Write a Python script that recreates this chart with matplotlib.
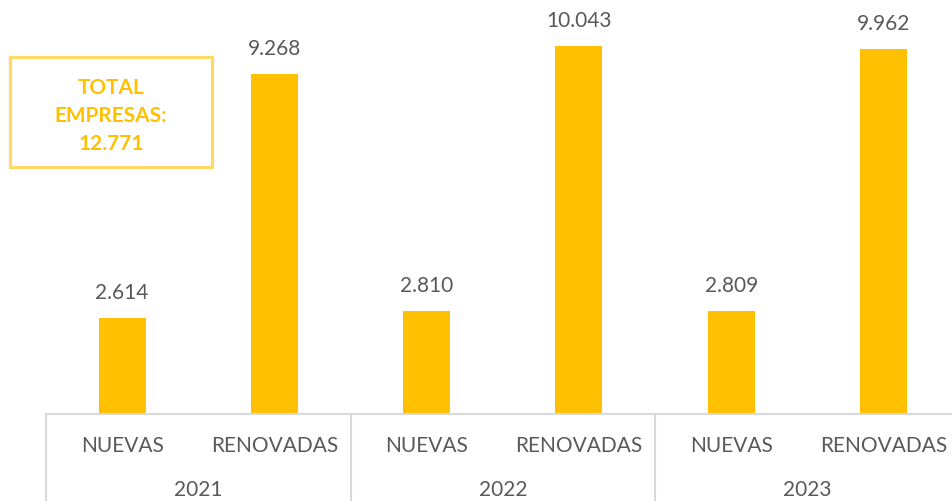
import matplotlib
matplotlib.use("Agg")
import matplotlib.pyplot as plt
from matplotlib.patches import Rectangle
import matplotlib.transforms as mtrans

# data
years = ["2021", "2022", "2023"]
kinds = ["NUEVAS", "RENOVADAS"]
values = [2614, 9268, 2810, 10043, 2809, 9962]
value_labels = ["2.614", "9.268", "2.810", "10.043", "2.809", "9.962"]
total_text = "TOTAL\nEMPRESAS:\n12.771"

BAR = "#FFC000"
BOX = "#FFD966"
TXT = "#595959"
GRID = "#D9D9D9"
plt.rcParams['font.family'] = ['Lato', 'DejaVu Sans']

W, H = 952, 501
fig = plt.figure(figsize=(W / 100, H / 100), dpi=100)
# axes placed in pixels: baseline at y=414, left edge at x=46, chart runs a bit past the right edge
base = 414
left = 46
right = 959.5
ax = fig.add_axes([left / W, (H - base) / H, (right - left) / W, base / H])

x = list(range(len(values)))
ax.bar(x, values, width=0.31, color=BAR, zorder=2)
ax.set_xlim(-0.5, len(values) - 0.5)
ax.set_ylim(0, 11299)
ax.axis('off')

for xi, v, lab in zip(x, values, value_labels):
    ax.annotate(lab, (xi, v), xytext=(0, 18), textcoords='offset points',
                ha='center', va='center', fontsize=15, color=TXT)

# multi-level category axis
tr = mtrans.blended_transform_factory(ax.transData, ax.transAxes)
ax.plot([-0.5, len(values) - 0.5], [0, 0], color=GRID, lw=1.5, transform=tr, clip_on=False)
for g in range(len(years) + 1):
    xg = g * 2 - 0.5
    ax.plot([xg, xg], [0, -0.3], color=GRID, lw=1.5, transform=tr, clip_on=False)

cat_y = -(446 - base) / base
year_y = -(490 - base) / base
for i in range(len(values)):
    ax.text(i, cat_y, kinds[i % 2], transform=tr, ha='center', va='center',
            fontsize=15, color=TXT)
for g, yr in enumerate(years):
    ax.text(g * 2 + 0.5, year_y, yr, transform=tr, ha='center', va='center',
            fontsize=15, color=TXT)

# total box, in figure pixels
fig.patches.append(Rectangle((10 / W, (H - 167) / H), 202 / W, 110 / H,
                             transform=fig.transFigure, fill=False,
                             edgecolor=BOX, lw=2.3))
fig.text(111 / W, (H - 116) / H, total_text, ha='center', va='center',
         fontsize=15, fontweight='bold', color=BAR, linespacing=1.5)

fig.savefig("out.png", dpi=100)
